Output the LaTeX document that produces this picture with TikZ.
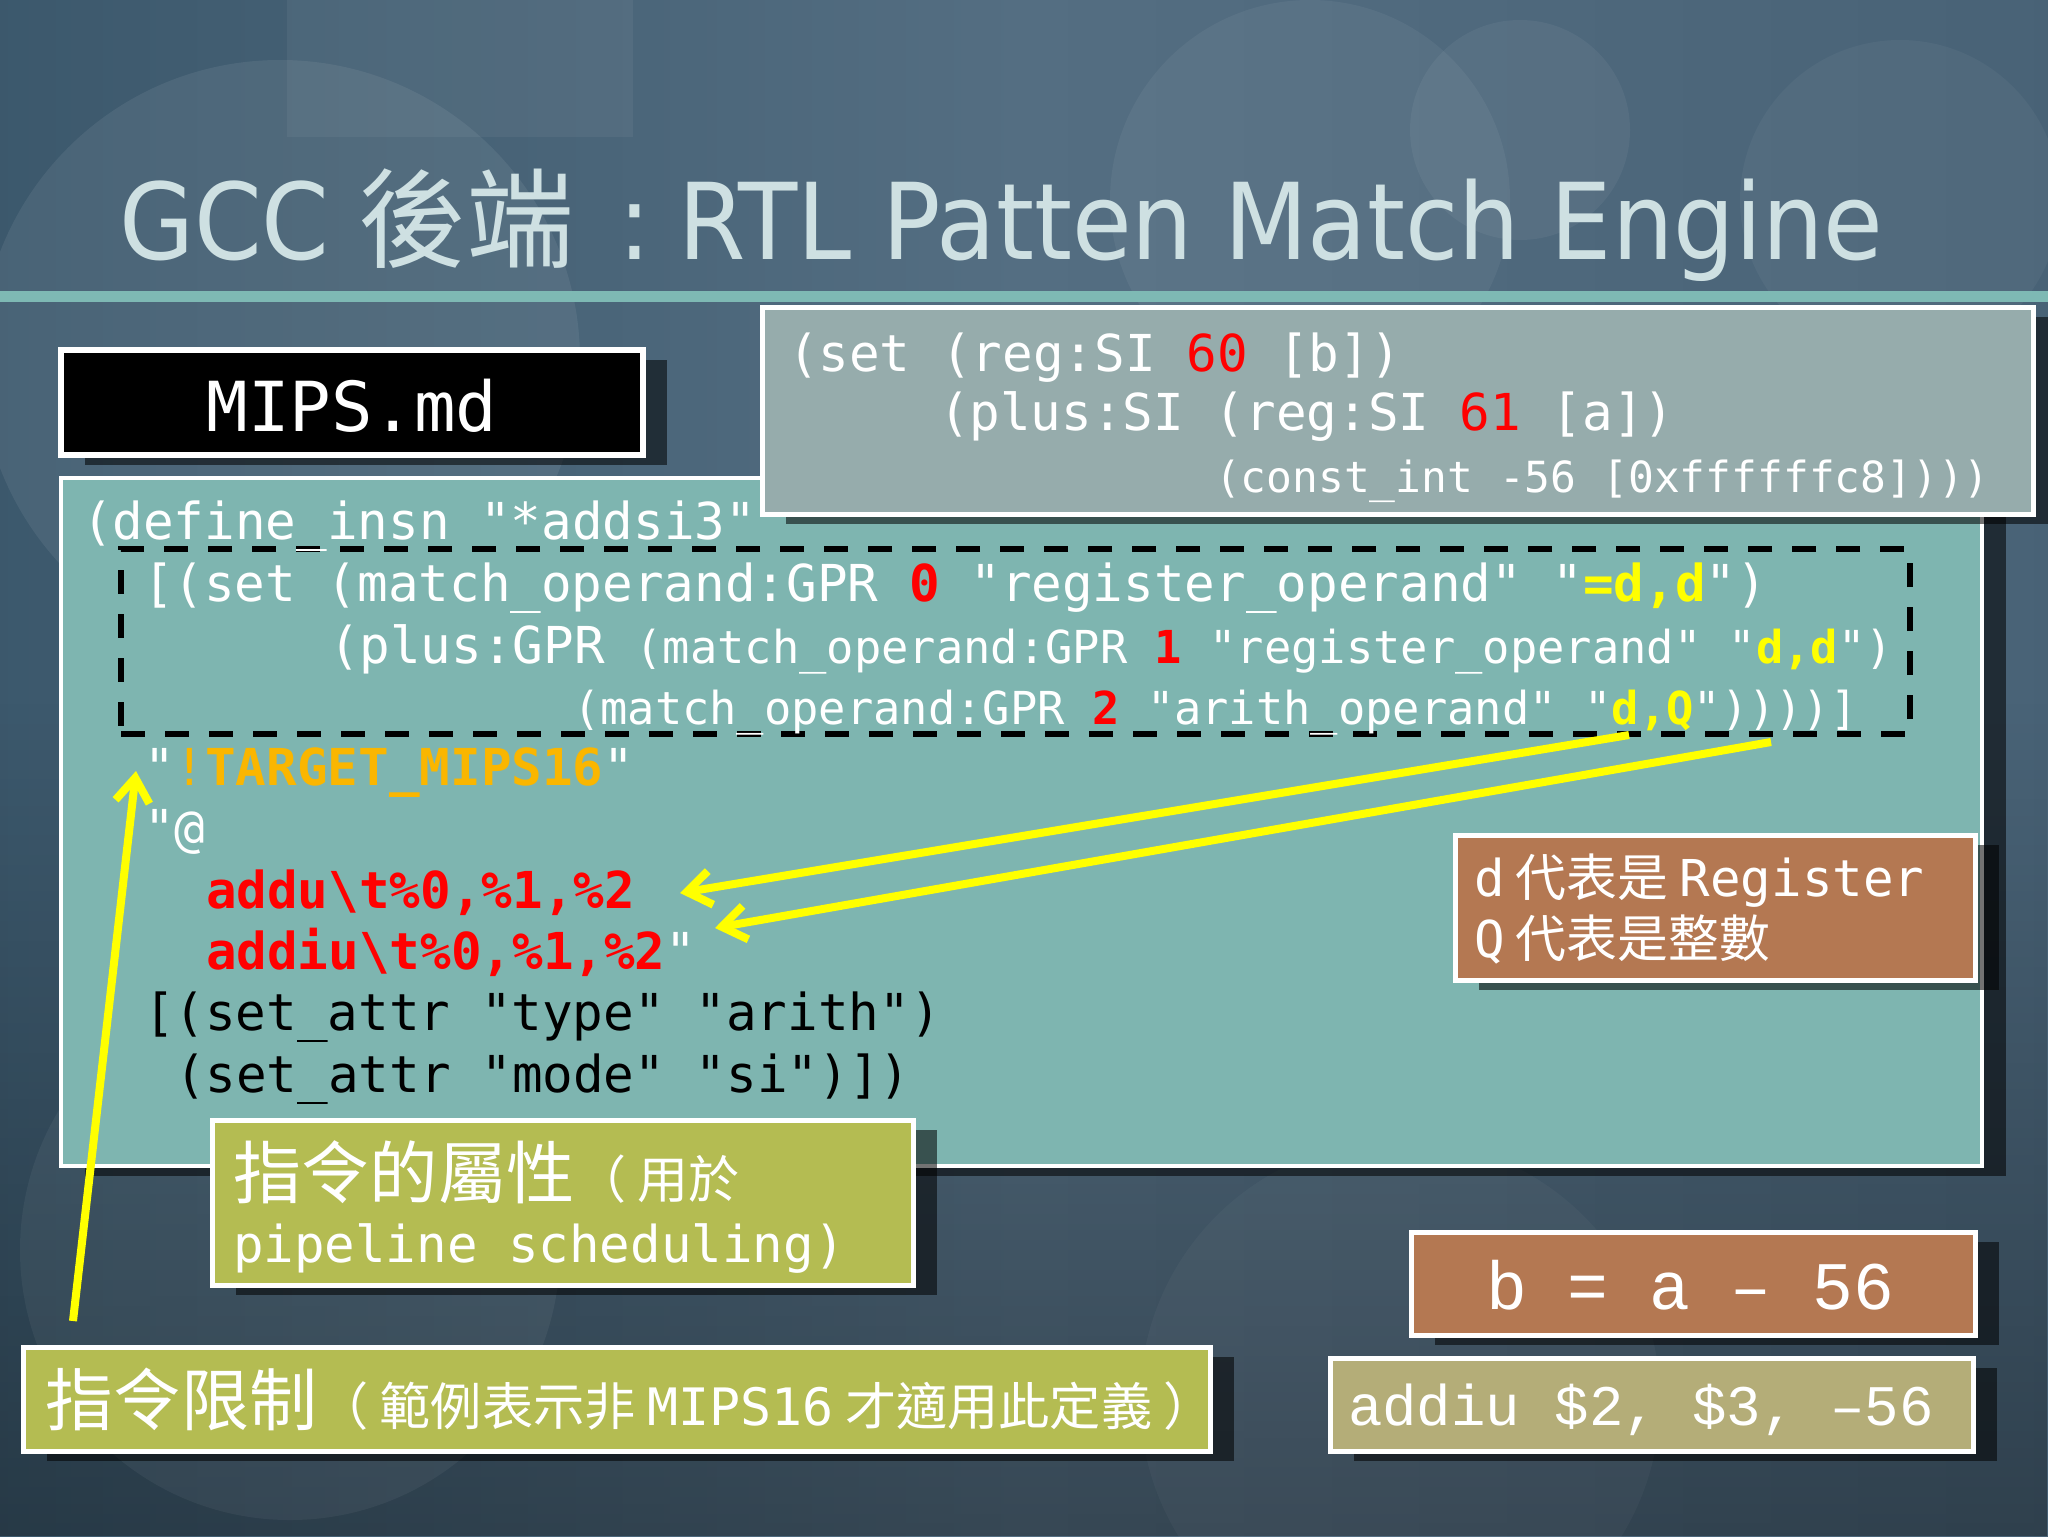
\documentclass[tikz,border=0pt]{standalone}
\usepackage{fontspec}
\usetikzlibrary{arrows.meta,fit,shadows,fadings}
\newfontfamily\mono{DejaVu Sans Mono}
\newfontfamily\cjk{Noto Sans CJK TC}
\newfontfamily\lmono{Liberation Mono}
\newfontfamily\titlefont[FakeStretch=0.915]{DejaVu Sans}
\newcommand\setfs[1]{\fontsize{#1}{#1}\selectfont}
\definecolor{bg0}{RGB}{24,44,64}
\definecolor{bg1}{RGB}{55,84,104}
\definecolor{bg2}{RGB}{84,110,130}
\definecolor{bg3}{RGB}{70,96,116}
\definecolor{bg4}{RGB}{28,50,70}
\definecolor{titlecol}{RGB}{206,224,226}
\definecolor{rulecol}{RGB}{126,185,180}
\definecolor{tealbox}{RGB}{126,181,176}
\definecolor{graybox}{RGB}{150,172,172}
\definecolor{brownbox}{RGB}{180,120,82}
\definecolor{olivebox}{RGB}{180,188,82}
\definecolor{khakibox}{RGB}{180,173,120}
\definecolor{cred}{RGB}{255,0,0}
\definecolor{cyel}{RGB}{255,255,0}
\definecolor{corange}{RGB}{250,182,0}
\pgfdeclarehorizontalshading{bgh}{100bp}{color(0bp)=(bg0); color(20bp)=(bg1); color(50bp)=(bg2); color(80bp)=(bg3); color(100bp)=(bg4)}
\newcommand\rb[1]{{\bfseries\color{cred}#1}}
\newcommand\yb[1]{{\bfseries\color{cyel}#1}}
\newcommand\rn[1]{{\color{cred}#1}}
\newcommand\cj[1]{{\cjk #1}}
\begin{document}
\begin{tikzpicture}[x=0.5pt,y=-0.5pt,
  panel/.style={draw=white, line width=2.5pt, inner sep=0pt,
    general shadow={fill=black, opacity=0.55, shadow xshift=12pt, shadow yshift=-5pt}},
  txt/.style={anchor=base west, inner sep=0pt, outer sep=0pt, text=white},
  code/.style={txt, font=\mono\setfs{25.45}},
  codesm/.style={txt, font=\mono\setfs{22.7}},
  pointer/.style={draw=cyel, line width=4pt, -{Straight Barb[length=12pt,width=17pt]}}]
\useasboundingbox (0,0) rectangle (2048,1536);
% background
\shade[shading=bgh] (0,0) rectangle (2048,1536);
\fill[black, opacity=0.35, path fading=north] (0,700) rectangle (2048,1536);
\fill[white, opacity=0.07] (280,360) circle (300);
\fill[white, opacity=0.05] (290,1250) circle (270);
\fill[white, opacity=0.05] (930,560) circle (170);
\fill[white, opacity=0.05] (1310,200) circle (200);
\fill[white, opacity=0.05] (1520,130) circle (110);
\fill[white, opacity=0.04] (1900,200) circle (160);
\fill[white, opacity=0.05] (287,0) rectangle (633,137);
\fill[white, opacity=0.03] (1400,1400) circle (260);
% title
\node[txt, text=titlecol, font=\titlefont\setfs{53}] (t1) at (119,259) {GCC};
\node[txt, text=titlecol, font=\cjk\setfs{54}] (t2) at (358,259) {後端};
\node[txt, anchor=base, text=titlecol, font=\titlefont\setfs{53}] (tc) at (635,259) {:};
\node[txt, text=titlecol, font=\titlefont\setfs{53}] (t3) at (678,259) {RTL Patten Match Engine};
\fill[rulecol] (0,291) rectangle (2048,302);
% boxes
\node[panel, fill=black, line width=3pt, fit={(61,350)(643,455)}] (mips) {};
\node[txt, anchor=base, font=\mono\setfs{34.5}] (mipst) at (352,431) {MIPS.md};
\node[panel, fill=tealbox, line width=2.2pt, fit={(61,478)(1982,1166)}] (main) {};
\node[panel, fill=graybox, fit={(762,307)(2033,514)}] (rtl) {};
\node[draw=black, dash pattern=on 12pt off 10pt, line width=3pt, inner sep=0pt, fit={(121,549)(1910,734)}] (dash) {};
% rtl text
\node[code] (s1) at (788,371) {(set (reg:SI \rn{60} [b])};
\node[code] (s2) at (939,430) {(plus:SI (reg:SI \rn{61} [a])};
\node[txt, font=\mono\setfs{21.45}] (s3) at (1215,492) {(const\_int -56 [0xffffffc8])))};
% md code
\node[code] (l0) at (82,539) {(define\_insn "*addsi3"};
\node[code] (l1) at (143,601) {[(set (match\_operand:GPR \rb{0} "register\_operand" "\yb{=d,d}")};
\node[code] (l2) at (329,663) {(plus:GPR {\setfs{22.7}(match\_operand:GPR \rb{1} "register\_operand" "\yb{d,d}")}};
\node[codesm] (l3) at (573,724) {(match\_operand:GPR \rb{2} "arith\_operand" "\yb{d,Q}"))))]};
\node[code] (l4) at (144,785) {"{\color{corange}!\bfseries TARGET\_MIPS16}"};
\node[code] (l5) at (144,846) {"@};
\node[code] (l6) at (206,908) {\rb{addu\textbackslash t\%0,\%1,\%2}};
\node[code] (l7) at (206,969) {\rb{addiu\textbackslash t\%0,\%1,\%2}"};
\node[code, text=black] (l8) at (144,1030) {[(set\_attr "type" "arith")};
\node[code, text=black] (l9) at (175,1092) {(set\_attr "mode" "si")])};
% d / Q box
\node[panel, fill=brownbox, fit={(1455,835)(1975,980)}] (dq) {};
\node[txt, font=\mono\setfs{25.4}] (dq1) at (1474,896) {d\cj{ 代表是 }Register};
\node[txt, font=\mono\setfs{25.4}] (dq2) at (1474,957) {Q\cj{ 代表是整數}};
% attribute box
\node[panel, fill=olivebox, fit={(212,1120)(913,1285)}] (attr) {};
\node[txt, font=\cjk\setfs{34.2}] (attr1) at (233,1198) {指令的屬性{\setfs{25.5}（ 用於}};
\node[txt, font=\mono\setfs{25.4}] (attr2) at (233,1262) {pipeline scheduling)};
% restriction box
\node[panel, fill=olivebox, fit={(23,1347)(1210,1451)}] (restr) {};
\node[txt, font=\cjk\setfs{34}] (restrt) at (45,1425) {指令限制{\setfs{25.6}（ 範例表示非 {\mono\setfs{25.8}MIPS16} 才適用此定義 ）}};
% b = a - 56
\node[panel, fill=brownbox, fit={(1411,1232)(1975,1335)}] (eq) {};
\node[txt, font=\lmono\setfs{34}] (eqt) at (1486,1309) {b = a – 56};
\node[panel, fill=khakibox, fit={(1330,1358)(1973,1451)}] (asm) {};
\node[txt, font=\lmono\setfs{28.7}] (asmt) at (1348,1425) {addiu \$2, \$3, –56};
% arrows
\coordinate (a1s) at (1629,735);
\coordinate (a1e) at (680,893);
\coordinate (a2s) at (1771,742);
\coordinate (a2e) at (715,928);
\coordinate (a3s) at (73,1321);
\coordinate (a3e) at (136,771);
\draw[pointer] (a1s) -- (a1e);
\draw[pointer] (a2s) -- (a2e);
\draw[pointer] (a3s) -- (a3e);
\end{tikzpicture}
\end{document}
